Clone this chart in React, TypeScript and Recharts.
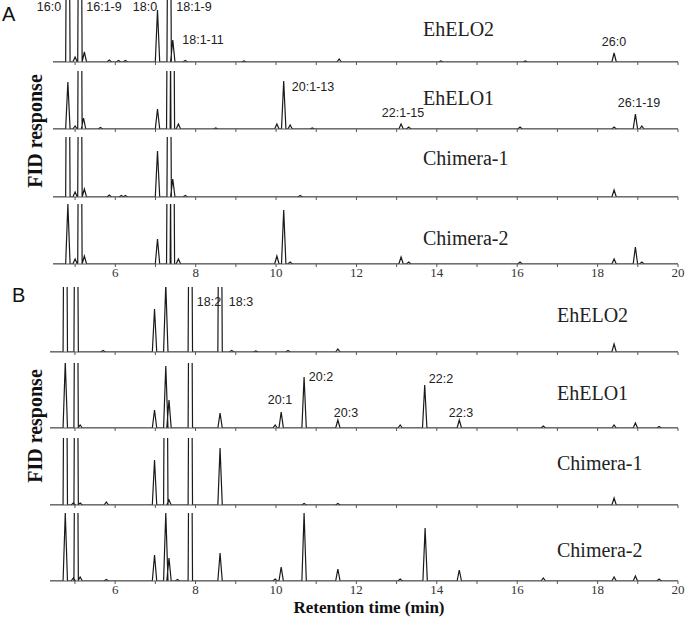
import React from 'react'
import { LineChart, Line, XAxis, YAxis } from 'recharts'

// retention-time ticks (min), labels only on the even ones
const RT_TICKS = [5, 6, 7, 8, 9, 10, 11, 12, 13, 14, 15, 16, 17, 18, 19, 20]

// peaks as [retention time (min), response]; 400 = off scale (clipped)
const A_EHELO2 = [[4.82, 400], [5.0, 5], [5.12, 400], [5.23, 10], [5.85, 2], [6.08, 1.5], [6.25, 1.5], [7.05, 52], [7.34, 400], [7.43, 22], [7.74, 1.5], [9.2, 1], [11.57, 3], [14.1, 1], [16.2, 1], [18.41, 9]]
const A_EHELO1 = [[4.82, 47], [5.0, 3], [5.12, 400], [5.21, 11], [5.63, 1.5], [7.05, 20], [7.33, 400], [7.42, 400], [7.57, 5], [8.5, 1], [10.02, 5], [10.19, 48], [10.35, 4], [10.9, 1], [13.11, 5], [13.3, 2], [16.07, 2], [18.41, 2], [18.94, 15], [19.1, 3]]
const A_CHIMERA1 = [[4.82, 400], [5.0, 5], [5.12, 400], [5.23, 8], [5.85, 2], [6.15, 1.5], [6.25, 1.5], [7.05, 46], [7.34, 400], [7.43, 18], [7.74, 1.5], [10.6, 1.5], [18.41, 7]]
const A_CHIMERA2 = [[4.82, 60], [5.0, 5], [5.12, 400], [5.23, 8], [7.05, 25], [7.33, 400], [7.42, 400], [7.57, 5], [10.02, 8], [10.19, 54], [10.35, 2], [13.11, 7], [13.3, 2], [16.07, 2], [18.41, 5], [18.94, 17], [19.1, 2]]

const B_EHELO2 = [[4.76, 400], [5.03, 400], [5.7, 1.5], [6.98, 43], [7.26, 68], [7.87, 400], [8.61, 400], [8.9, 1.5], [9.5, 1], [10.3, 1.5], [11.54, 3], [18.41, 8]]
const B_EHELO1 = [[4.76, 66], [5.03, 400], [5.13, 3], [6.98, 18], [7.26, 62], [7.34, 28], [7.87, 400], [8.61, 15], [9.98, 3], [10.13, 16], [10.7, 51], [11.54, 8], [13.09, 3], [13.7, 43], [14.56, 8], [16.65, 2], [18.41, 3], [18.94, 5], [19.53, 1.5]]
const B_CHIMERA1 = [[4.76, 400], [4.96, 2], [5.03, 400], [5.13, 2], [5.78, 3], [6.98, 45], [7.26, 400], [7.34, 5], [7.87, 400], [8.61, 57], [10.7, 1.5], [11.54, 1.5], [18.41, 7]]
const B_CHIMERA2 = [[4.76, 68], [4.96, 3], [5.03, 400], [5.13, 4], [5.78, 1.5], [6.98, 26], [7.26, 68], [7.34, 23], [7.55, 1.5], [7.87, 400], [8.61, 28], [9.98, 2], [10.13, 14], [10.7, 68], [11.54, 12], [13.09, 2], [13.71, 53], [14.56, 11], [16.65, 3], [18.41, 4], [18.94, 5], [19.53, 2]]

const HW = 0.055 // half width of a peak at its base (min)

// baseline -> apex -> baseline for every peak
function trace(peaks: number[][], t0: number) {
  const pts = [{ t: t0, v: 0 }]
  peaks.forEach(([rt, h]) => {
    pts.push({ t: rt - HW, v: 0 }, { t: rt, v: h }, { t: rt + HW, v: 0 })
  })
  pts.push({ t: 20, v: 0 })
  return pts
}

const STRIPS = [
  { top: 0, base: 62, left: 53, t0: 4.45, peaks: A_EHELO2, labels: false },
  { top: 71, base: 129, left: 53, t0: 4.45, peaks: A_EHELO1, labels: false },
  { top: 137, base: 197, left: 53, t0: 4.45, peaks: A_CHIMERA1, labels: false },
  { top: 204, base: 264, left: 53, t0: 4.45, peaks: A_CHIMERA2, labels: true },
  { top: 287, base: 352, left: 50, t0: 4.38, peaks: B_EHELO2, labels: false },
  { top: 363, base: 428, left: 50, t0: 4.38, peaks: B_EHELO1, labels: false },
  { top: 438, base: 505, left: 50, t0: 4.38, peaks: B_CHIMERA1, labels: false },
  { top: 513, base: 581, left: 50, t0: 4.38, peaks: B_CHIMERA2, labels: true },
]

const NAMES = [
  { x: 423, y: 36, s: 'EhELO2' },
  { x: 423, y: 105, s: 'EhELO1' },
  { x: 423, y: 165, s: 'Chimera-1' },
  { x: 423, y: 245, s: 'Chimera-2' },
  { x: 557, y: 322, s: 'EhELO2' },
  { x: 557, y: 400, s: 'EhELO1' },
  { x: 557, y: 470, s: 'Chimera-1' },
  { x: 557, y: 557, s: 'Chimera-2' },
]

const PEAK_LABELS = [
  { x: 49, y: 11, s: '16:0' },
  { x: 104, y: 11, s: '16:1-9' },
  { x: 145, y: 11, s: '18:0' },
  { x: 194, y: 11, s: '18:1-9' },
  { x: 203, y: 44, s: '18:1-11' },
  { x: 313, y: 91, s: '20:1-13' },
  { x: 403, y: 117, s: '22:1-15' },
  { x: 639, y: 107, s: '26:1-19' },
  { x: 614, y: 46, s: '26:0' },
  { x: 209, y: 306, s: '18:2' },
  { x: 241, y: 306, s: '18:3' },
  { x: 280, y: 404, s: '20:1' },
  { x: 321, y: 381, s: '20:2' },
  { x: 346, y: 417, s: '20:3' },
  { x: 441, y: 383, s: '22:2' },
  { x: 461, y: 417, s: '22:3' },
]

const SERIF = '"Liberation Serif", "DejaVu Serif", serif'
const SANS = '"Liberation Sans", Arial, sans-serif'

function Strip({ s }: { s: (typeof STRIPS)[number] }) {
  const h = s.base - s.top
  return (
    <div style={{ position: 'absolute', left: 0, top: s.top }}>
      <LineChart width={685} height={h + 20} data={trace(s.peaks, s.t0)} margin={{ top: 0, right: 7, left: s.left, bottom: 0 }}>
        <XAxis
          dataKey="t"
          type="number"
          domain={[s.t0, 20]}
          ticks={RT_TICKS}
          height={20}
          tickSize={3}
          tickMargin={1}
          stroke="#555"
          tick={{ fill: '#333', fontSize: 13, fontFamily: SERIF }}
          tickFormatter={(v: number) => (s.labels && v % 2 === 0 ? String(v) : '')}
          allowDataOverflow
        />
        <YAxis hide domain={[0, h]} allowDataOverflow />
        <Line
          dataKey="v"
          type="linear"
          stroke="#1a1a1a"
          strokeWidth={1.2}
          dot={false}
          isAnimationActive={false}
        />
      </LineChart>
    </div>
  )
}

export default function App() {
  return (
    <div style={{ position: 'absolute', left: 0, top: 0, width: 685, height: 618, background: '#fff' }}>
      {STRIPS.map((s, i) => (
        <Strip key={i} s={s} />
      ))}
      <svg width={685} height={618} style={{ position: 'absolute', left: 0, top: 0, pointerEvents: 'none' }}>
        <text x={2} y={21} fontFamily={SANS} fontSize={20} fill="#111">A</text>
        <text x={12} y={302} fontFamily={SANS} fontSize={20} fill="#111">B</text>
        {NAMES.map((n, i) => (
          <text key={i} x={n.x} y={n.y} fontFamily={SERIF} fontSize={20} fill="#222">{n.s}</text>
        ))}
        {PEAK_LABELS.map((p, i) => (
          <text key={i} x={p.x} y={p.y} textAnchor="middle" fontFamily={SANS} fontSize={12.5} fill="#222">{p.s}</text>
        ))}
        <text transform="translate(42,131) rotate(-90)" textAnchor="middle" fontFamily={SERIF} fontWeight="bold" fontSize={20} fill="#111">FID response</text>
        <text transform="translate(42,426) rotate(-90)" textAnchor="middle" fontFamily={SERIF} fontWeight="bold" fontSize={20} fill="#111">FID response</text>
        <text x={369} y={613} textAnchor="middle" fontFamily={SERIF} fontWeight="bold" fontSize={17} fill="#111">Retention time (min)</text>
      </svg>
    </div>
  )
}
